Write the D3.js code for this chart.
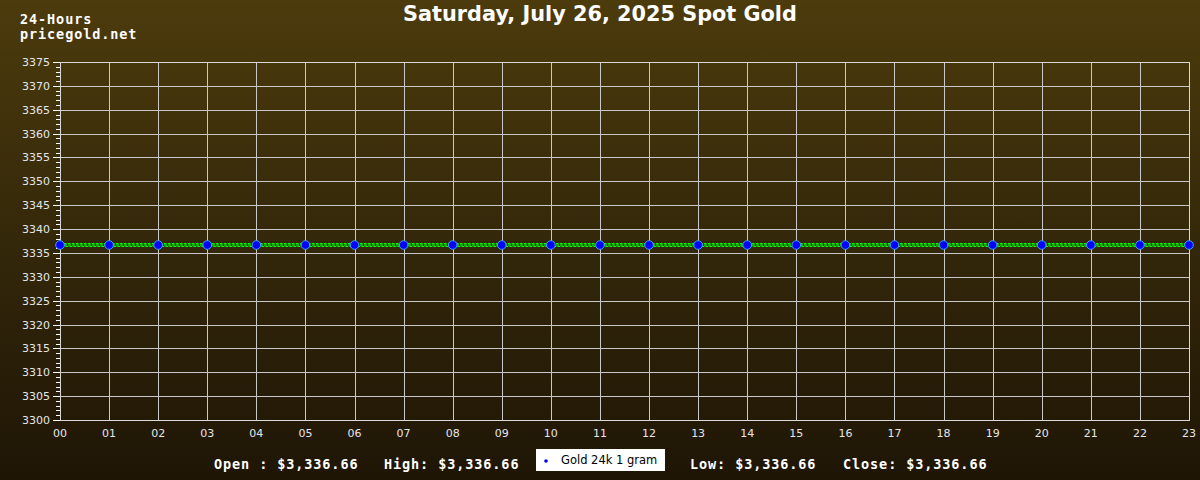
<!DOCTYPE html>
<html><head><meta charset="utf-8">
<script src="https://cdn.jsdelivr.net/npm/d3@7"></script>
<style>html,body{margin:0;padding:0;background:#201706;}svg{display:block;}</style>
</head><body>
<svg id="c" width="1200" height="480"></svg>
<script>
const hours = ["00","01","02","03","04","05","06","07","08","09","10","11","12","13","14","15","16","17","18","19","20","21","22","23"];
const prices = [3336.66,3336.66,3336.66,3336.66,3336.66,3336.66,3336.66,3336.66,3336.66,3336.66,3336.66,3336.66,3336.66,3336.66,3336.66,3336.66,3336.66,3336.66,3336.66,3336.66,3336.66,3336.66,3336.66,3336.66];
const yTicks = [3300,3305,3310,3315,3320,3325,3330,3335,3340,3345,3350,3355,3360,3365,3370,3375];
const yMinorTicks = d3.range(3300, 3376, 1);
const title = "Saturday, July 26, 2025 Spot Gold";
const stats = [["Open : ", "$3,336.66"], ["High: ", "$3,336.66"], ["Low: ", "$3,336.66"], ["Close: ", "$3,336.66"]];
const seriesName = "Gold 24k 1 gram";

const svg = d3.select("#c");
const W = 1200, H = 480;
const m = {left: 60, right: 1189, top: 62, bottom: 420};

const defs = svg.append("defs");
const grad = defs.append("linearGradient").attr("id","bg").attr("x1",0).attr("y1",0).attr("x2",0).attr("y2",1);
grad.append("stop").attr("offset","0%").attr("stop-color","#4c3b0c");
grad.append("stop").attr("offset","50%").attr("stop-color","#34280a");
grad.append("stop").attr("offset","100%").attr("stop-color","#1e1505");

svg.append("rect").attr("width",W).attr("height",H).attr("fill","url(#bg)");

const x = d3.scaleLinear().domain([0, hours.length-1]).range([m.left, m.right]);
const y = d3.scaleLinear().domain([3300, 3375]).range([m.bottom, m.top]);

const yv = Math.round(y(prices[0]));
const pat = defs.append("pattern").attr("id","zig").attr("patternUnits","userSpaceOnUse")
  .attr("width",4).attr("height",6).attr("x", m.left).attr("y", yv-3);
pat.append("path").attr("d","M0,4.5 V1.5 H2 V4.5 H4").attr("fill","none").attr("stroke","#00ff00").attr("stroke-width",1.2);

// grid
const g = svg.append("g");
g.selectAll(".hg").data(yTicks).join("line")
  .attr("x1", m.left).attr("x2", m.right)
  .attr("y1", d => Math.round(y(d))+0.5).attr("y2", d => Math.round(y(d))+0.5)
  .attr("stroke","#c8c8c8").attr("stroke-width",1);
g.selectAll(".vg").data(hours).join("line")
  .attr("y1", m.top).attr("y2", m.bottom)
  .attr("x1", (d,i) => Math.round(x(i))+0.5).attr("x2", (d,i) => Math.round(x(i))+0.5)
  .attr("stroke","#c8c8c8").attr("stroke-width",1);

// frame
svg.append("rect").attr("x", m.left+0.5).attr("y", m.top+0.5)
  .attr("width", m.right-m.left).attr("height", m.bottom-m.top)
  .attr("fill","none").attr("stroke","#d8d8d8");

// y axis ticks
g.selectAll(".mt").data(yMinorTicks).join("line")
  .attr("x1", 56).attr("x2", m.left)
  .attr("y1", d => Math.round(y(d))+0.5).attr("y2", d => Math.round(y(d))+0.5)
  .attr("stroke","#ffffff");
g.selectAll(".Mt").data(yTicks).join("line")
  .attr("x1", 53).attr("x2", m.left)
  .attr("y1", d => Math.round(y(d))+0.5).attr("y2", d => Math.round(y(d))+0.5)
  .attr("stroke","#ffffff");
g.selectAll(".yl").data(yTicks).join("text")
  .attr("x", 50).attr("y", d => y(d)+4)
  .attr("text-anchor","end").attr("fill","#e6e6e6")
  .attr("font-family","DejaVu Sans").attr("font-size","11px")
  .text(d => d);
g.selectAll(".xl").data(hours).join("text")
  .attr("x", (d,i) => x(i)).attr("y", 437)
  .attr("text-anchor","middle").attr("fill","#e6e6e6")
  .attr("font-family","DejaVu Sans").attr("font-size","11px")
  .text(d => d);

// series line (zigzag styled)
svg.append("rect").attr("x", x(0)).attr("width", x(prices.length-1)-x(0))
  .attr("y", yv-3).attr("height", 6)
  .attr("fill","url(#zig)");

// points
svg.selectAll(".pt").data(prices).join("circle")
  .attr("cx", (d,i) => x(i)).attr("cy", d => y(d))
  .attr("r", 4.3).attr("fill","#0000ff").attr("stroke","#3fa0ff").attr("stroke-width",1);

// title
svg.append("text").attr("x", 600).attr("y", 21).attr("text-anchor","middle")
  .attr("fill","#ffffff").attr("font-family","DejaVu Sans").attr("font-weight","bold")
  .attr("font-size","20.8px").text(title);

const mono = {"font-family":"DejaVu Sans Mono","font-size":"13.5px","letter-spacing":"0.9px"};
function monoText(tx, ty, s){
  const t = svg.append("text").attr("x",tx).attr("y",ty).attr("fill","#ffffff").attr("font-weight","bold");
  Object.entries(mono).forEach(([k,v])=>t.attr(k,v));
  t.text(s);
  return t;
}
monoText(20, 24, "24-Hours");
monoText(20, 39, "pricegold.net");

const statX = [214, 384, 690, 843];
stats.forEach((s,i)=> monoText(statX[i], 469, s[0]+s[1]));

// legend
svg.append("rect").attr("x",536).attr("y",449).attr("width",129).attr("height",22).attr("fill","#ffffff");
svg.append("circle").attr("cx",546).attr("cy",461).attr("r",1.8).attr("fill","#0000ff");
svg.append("text").attr("x",561).attr("y",464).attr("fill","#000").attr("font-family","DejaVu Sans")
  .attr("font-size","11.5px").text(seriesName);
</script>
</body></html>
